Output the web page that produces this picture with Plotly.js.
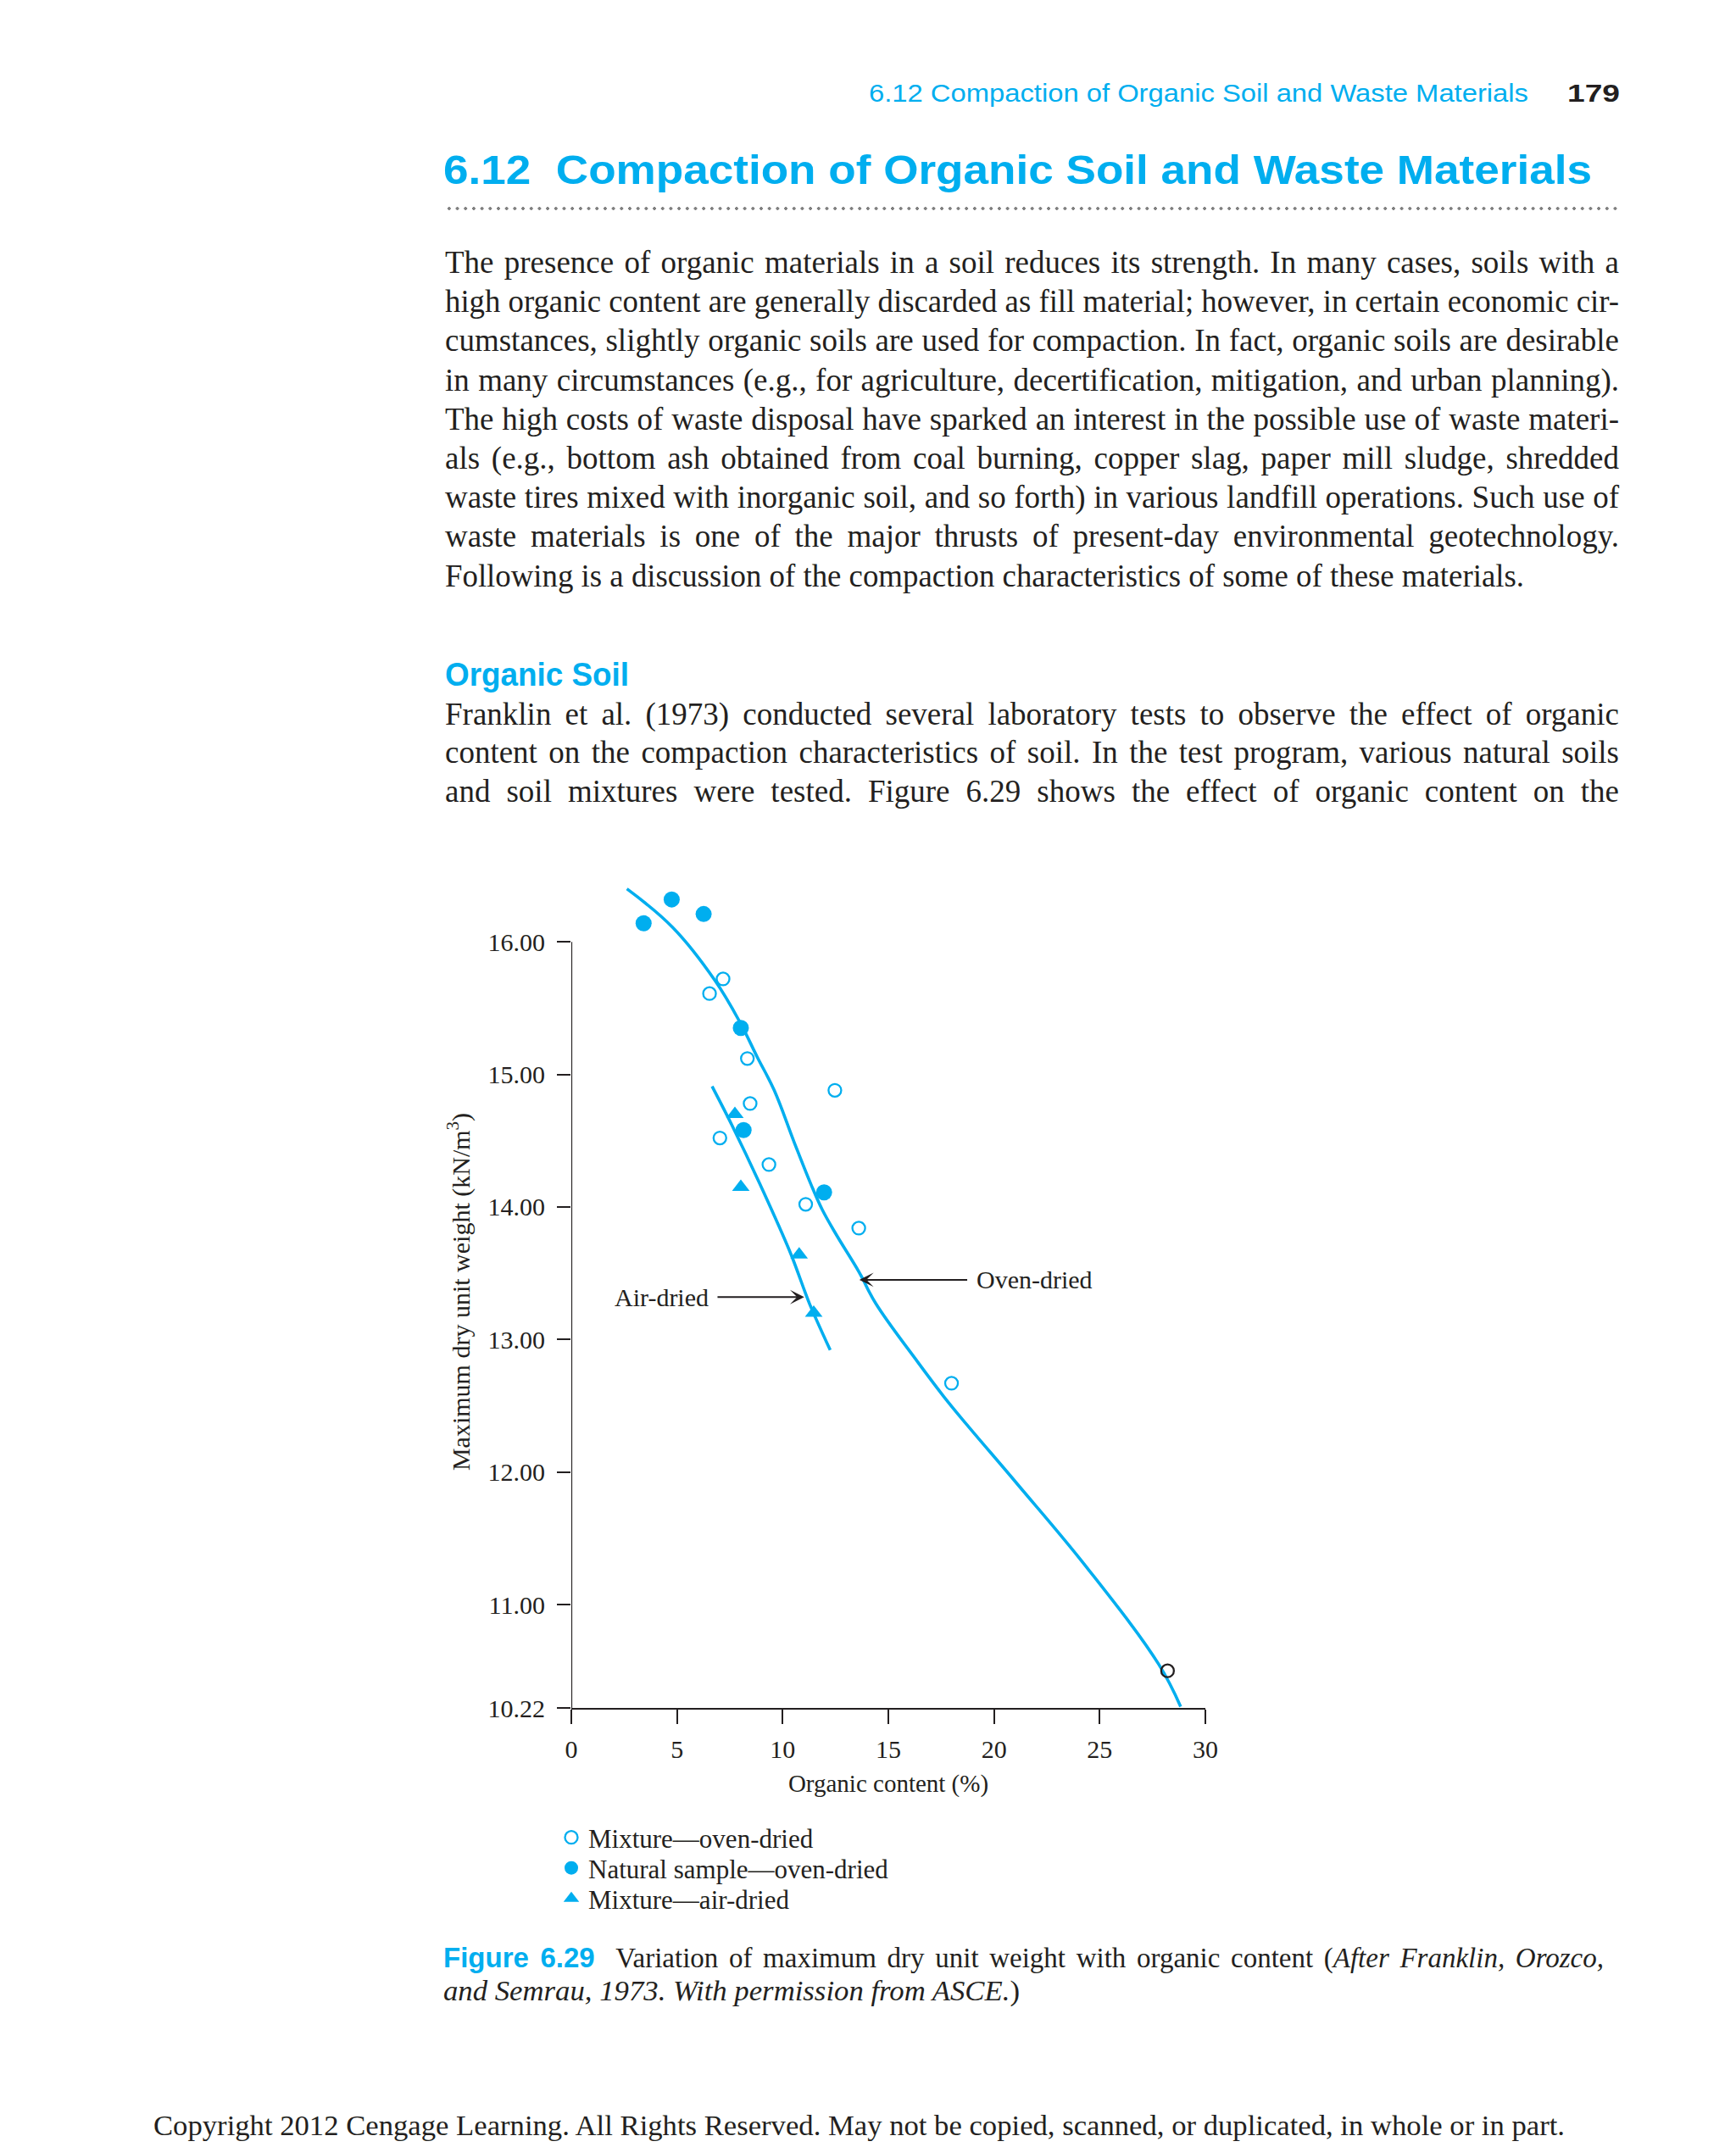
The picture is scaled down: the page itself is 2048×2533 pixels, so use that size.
<!DOCTYPE html>
<html>
<head>
<meta charset="utf-8">
<script src="https://cdn.plot.ly/plotly-3.0.1.min.js"></script>
<style>
html,body{margin:0;padding:0;background:#fff;}
#page{position:relative;width:2048px;height:2533px;overflow:hidden;background:#fff;}
#chart{position:absolute;left:0;top:0;width:2048px;height:2533px;}
.t{position:absolute;white-space:nowrap;color:#231F20;}
.serif{font-family:"Liberation Serif","Times New Roman",serif;}
.sans{font-family:"Liberation Sans Narrow","Liberation Sans",Arial,sans-serif;}
.figlab{font-family:"Liberation Sans Narrow","Liberation Sans",Arial,sans-serif;font-weight:bold;color:#00AEEF;}
#dots{position:absolute;left:525px;top:243px;width:1386px;height:6px;
  background-image:radial-gradient(ellipse 1.7px 2.5px at 50% 50%, #808080 90%, rgba(255,255,255,0) 100%);
  background-size:9.7px 6px;background-repeat:repeat-x;}
</style>
</head>
<body>
<div id="page">
  <div id="chart"></div>
  <div id="dots"></div>
</div>
<script>
// ---------------- data ----------------
const xTicks = [0, 5, 10, 15, 20, 25, 30];
const xTickText = ['0', '5', '10', '15', '20', '25', '30'];
const yTicks = [10.22, 11, 12, 13, 14, 15, 16];
const yTickText = ['10.22', '11.00', '12.00', '13.00', '14.00', '15.00', '16.00'];

// Mixture — oven-dried (open circles)
const mixOvenX = [7.18, 6.54, 8.33, 12.47, 8.46, 7.03, 9.35, 11.09, 13.60, 17.99];
const mixOvenY = [15.72, 15.61, 15.12, 14.88, 14.78, 14.52, 14.32, 14.02, 13.84, 12.67];
// the single point printed in black (open circle)
const mixOvenBlackX = [28.21];
const mixOvenBlackY = [10.50];
// Natural sample — oven-dried (filled circles)
const natOvenX = [3.42, 4.75, 6.26, 8.02, 8.15, 11.96];
const natOvenY = [16.14, 16.32, 16.21, 15.35, 14.58, 14.11];
// Mixture — air-dried (triangles)
const mixAirX = [7.74, 8.02, 10.78, 11.47];
const mixAirY = [14.70, 14.15, 13.64, 13.20];

// fitted curves
const ovenCurveX = [2.63, 4.79, 6.79, 7.99, 8.80, 9.60, 10.54, 11.34, 11.87, 12.54, 13.61, 14.41, 16.39, 17.62, 18.70, 21.10, 24.44, 27.79, 28.83];
const ovenCurveY = [16.40, 16.11, 15.71, 15.39, 15.13, 14.88, 14.49, 14.17, 13.98, 13.79, 13.51, 13.27, 12.83, 12.57, 12.36, 11.91, 11.27, 10.55, 10.23];
const airCurveX = [6.66, 7.59, 8.93, 10.40, 11.27, 12.25];
const airCurveY = [14.91, 14.62, 14.17, 13.64, 13.27, 12.92];

// curve labels: [text, arrow tip x, y, text centre x]
const airLabel = ['Air-dried', 11.02, 13.32, 4.27];
const ovenLabel = ['Oven-dried', 13.63, 13.45, 21.90];

const legendNames = ['Mixture\u2014oven-dried', 'Natural sample\u2014oven-dried', 'Mixture\u2014air-dried'];

// ---------------- page text ----------------
const para1 = [
  'The presence of organic materials in a soil reduces its strength. In many cases, soils with a',
  'high organic content are generally discarded as fill material; however, in certain economic cir-',
  'cumstances, slightly organic soils are used for compaction. In fact, organic soils are desirable',
  'in many circumstances (e.g., for agriculture, decertification, mitigation, and urban planning).',
  'The high costs of waste disposal have sparked an interest in the possible use of waste materi-',
  'als (e.g., bottom ash obtained from coal burning, copper slag, paper mill sludge, shredded',
  'waste tires mixed with inorganic soil, and so forth) in various landfill operations. Such use of',
  'waste materials is one of the major thrusts of present-day environmental geotechnology.',
  'Following is a discussion of the compaction characteristics of some of these materials.'
];
const para2 = [
  'Franklin et al. (1973) conducted several laboratory tests to observe the effect of organic',
  'content on the compaction characteristics of soil. In the test program, various natural soils',
  'and soil mixtures were tested. Figure 6.29 shows the effect of organic content on the'
];

const ink = '#231F20';
const blue = '#00AEEF';
const page = document.getElementById('page');

function addText(html, o) {
  const d = document.createElement('div');
  d.className = 't ' + (o.cls || 'serif');
  d.innerHTML = html;
  d.style.fontSize = o.size + 'px';
  d.style.lineHeight = o.size + 'px';
  d.style.left = o.left + 'px';
  d.style.top = (o.baseline - 0.84 * o.size) + 'px';
  if (o.weight) d.style.fontWeight = o.weight;
  if (o.color) d.style.color = o.color;
  page.appendChild(d);
  if (o.width) {
    const nat = d.getBoundingClientRect().width;
    if (o.justify && nat < o.width) {
      d.style.whiteSpace = 'normal';
      d.style.width = o.width + 'px';
      d.style.textAlign = 'justify';
      d.style.textAlignLast = 'justify';
    } else if (!o.justify || nat > o.width) {
      d.style.transformOrigin = '0 0';
      d.style.transform = 'scaleX(' + (o.width / nat) + ')';
    }
  }
  return d;
}

function buildText() {
  addText('6.12 Compaction of Organic Soil and Waste Materials',
    {left: 1025, baseline: 120, size: 29, width: 778, cls: 'sans', color: blue});
  addText('179', {left: 1849, baseline: 120, size: 30, width: 62, cls: 'sans', weight: 'bold', color: ink});
  addText('6.12&nbsp; Compaction of Organic Soil and Waste Materials',
    {left: 523, baseline: 217, size: 48, width: 1355, cls: 'sans', weight: 'bold', color: blue});

  const b1 = 322, step = 46.2;
  para1.forEach((s, i) => {
    const last = i === para1.length - 1;
    addText(s, {left: 525, baseline: b1 + i * step, size: 37, width: last ? 1273 : 1385, justify: true});
  });
  addText('Organic Soil', {left: 525, baseline: 809, size: 38, width: 217, cls: 'sans', weight: 'bold', color: blue});
  para2.forEach((s, i) => {
    addText(s, {left: 525, baseline: 855 + i * 45.5, size: 37, width: 1385, justify: true});
  });

  addText('<span class="figlab">Figure 6.29</span>&nbsp; Variation of maximum dry unit weight with organic content (<i>After Franklin, Orozco,</i>',
    {left: 523, baseline: 2321, size: 33, width: 1369, justify: true});
  addText('<i>and Semrau, 1973. With permission from ASCE.</i>)',
    {left: 523, baseline: 2361, size: 33, width: 680});
  addText('Copyright 2012 Cengage Learning. All Rights Reserved. May not be copied, scanned, or duplicated, in whole or in part.',
    {left: 181, baseline: 2520, size: 33, width: 1665});
}

// ---------------- chart ----------------
const M = {l: 674, r: 626, t: 1033, b: 518};
const plotW = 2048 - M.l - M.r, plotH = 2533 - M.t - M.b;
const legendRowsPx = [2168, 2204, 2240];   // legend row centres on the page
function legendBox(i) {
  return {xref: 'paper', yref: 'paper', x: (654 - M.l) / plotW, y: -(legendRowsPx[i] - (M.t + plotH)) / plotH,
    xanchor: 'left', yanchor: 'middle', font: {size: 31, color: ink}, bgcolor: 'rgba(0,0,0,0)',
    borderwidth: 0, tracegroupgap: 0};
}

const traces = [
  {x: ovenCurveX, y: ovenCurveY, type: 'scatter', mode: 'lines', line: {color: blue, width: 3.6, shape: 'spline', smoothing: 1.1}, showlegend: false, hoverinfo: 'skip'},
  {x: airCurveX, y: airCurveY, type: 'scatter', mode: 'lines', line: {color: blue, width: 3.6, shape: 'spline', smoothing: 0.8}, showlegend: false, hoverinfo: 'skip'},
  {x: mixOvenX, y: mixOvenY, name: legendNames[0], legend: 'legend', type: 'scatter', mode: 'markers', marker: {symbol: 'circle-open', size: 15, color: blue, line: {width: 2.3}}},
  {x: natOvenX, y: natOvenY, name: legendNames[1], legend: 'legend2', type: 'scatter', mode: 'markers', marker: {symbol: 'circle', size: 19, color: blue}},
  {x: mixAirX, y: mixAirY, name: legendNames[2], legend: 'legend3', type: 'scatter', mode: 'markers', marker: {symbol: 'triangle-up', size: 18, color: blue}},
  {x: mixOvenBlackX, y: mixOvenBlackY, type: 'scatter', mode: 'markers', showlegend: false, marker: {symbol: 'circle-open', size: 15, color: ink, line: {width: 2.3}}}
];

const layout = {
  width: 2048, height: 2533,
  margin: {l: M.l, r: M.r, t: M.t, b: M.b, pad: 0, autoexpand: false},
  paper_bgcolor: 'rgba(0,0,0,0)', plot_bgcolor: 'rgba(0,0,0,0)',
  font: {family: 'Liberation Serif, Times New Roman, serif', size: 30, color: ink},
  showlegend: true,
  legend: legendBox(0),
  legend2: legendBox(1),
  legend3: legendBox(2),
  xaxis: {range: [0, 30], tickvals: xTicks, ticktext: xTickText, ticks: 'outside', ticklen: 17,
    tickwidth: 2, tickcolor: ink, showline: true, linewidth: 2.4, linecolor: ink, showgrid: false,
    zeroline: false, tickfont: {size: 30}, ticklabelstandoff: 4,
    title: {text: 'Organic content (%)', font: {size: 29}, standoff: 14}},
  yaxis: {range: [10.22, 16.5], tickvals: yTicks, ticktext: yTickText, ticks: 'outside', ticklen: 16,
    tickwidth: 2, tickcolor: ink, showline: false, showgrid: false, zeroline: false,
    tickfont: {size: 30}, ticklabelstandoff: 8,
    title: {text: 'Maximum dry unit weight (kN/m<sup>3</sup>)', font: {size: 30}, standoff: 12}},
  shapes: [{type: 'line', xref: 'x', yref: 'y', x0: xTicks[0], x1: xTicks[0], y0: yTicks[0], y1: yTicks[yTicks.length - 1],
    line: {color: ink, width: 2.2}}],
  annotations: [
    {x: airLabel[1], y: airLabel[2], ax: airLabel[3], ay: airLabel[2], xref: 'x', yref: 'y', axref: 'x', ayref: 'y',
      text: airLabel[0], font: {size: 30, color: ink}, showarrow: true, arrowhead: 3, arrowsize: 1.4, arrowwidth: 2,
      arrowcolor: ink, standoff: 0, startstandoff: 9},
    {x: ovenLabel[1], y: ovenLabel[2], ax: ovenLabel[3], ay: ovenLabel[2], xref: 'x', yref: 'y', axref: 'x', ayref: 'y',
      text: ovenLabel[0], font: {size: 30, color: ink}, showarrow: true, arrowhead: 3, arrowsize: 1.4, arrowwidth: 2,
      arrowcolor: ink, standoff: 0, startstandoff: 9}
  ]
};

Plotly.newPlot('chart', traces, layout, {staticPlot: true, displayModeBar: false}).then(() => {
  // drop Plotly's off-screen text-measuring helper once drawing is done
  document.querySelectorAll('#js-plotly-tester').forEach(n => n.remove());
});

if (document.fonts && document.fonts.ready) {
  document.fonts.ready.then(buildText);
} else {
  buildText();
}
</script>
</body>
</html>
